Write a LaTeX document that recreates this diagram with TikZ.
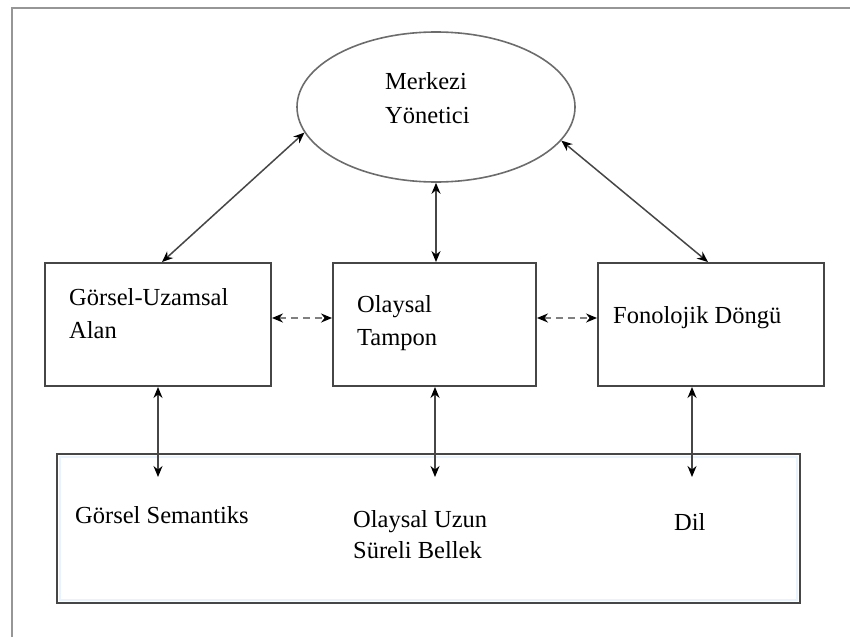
\documentclass[tikz,border=0pt]{standalone}
\usepackage{fontspec}
\setmainfont{Liberation Serif}
\usetikzlibrary{shapes.geometric,arrows.meta,calc}
\definecolor{framegray}{RGB}{150,150,150}
\definecolor{linegray}{RGB}{70,70,70}
\definecolor{tintblue}{RGB}{232,243,253}
\begin{document}
\begin{tikzpicture}[x=1pt,y=-1pt,
  txt/.style={anchor=base west,inner sep=0pt,font=\fontsize{24.5}{30}\selectfont,text=black},
  boxnode/.style={draw=linegray,line width=1.9pt,rectangle,inner sep=0pt},
  biarrow/.style={draw=linegray,line width=1.5pt,{Stealth[length=11pt,width=9pt,black]}-{Stealth[length=11pt,width=9pt,black]}},
  dasharrow/.style={draw=gray,line width=1.6pt,dash pattern=on 7pt off 5pt,{Stealth[length=11pt,width=9pt,black]}-{Stealth[length=11pt,width=9pt,black]}}
]
\useasboundingbox (0,0) rectangle (850,637);
% outer frame (left and top)
\draw[framegray,line width=2.2pt] (12,637) -- (12,8) -- (850,8);

% shapes
\node[ellipse,draw=gray!85!black,line width=1.6pt,minimum width=278pt,minimum height=150pt,inner sep=0pt] (E) at (436,107) {};
\node[boxnode,minimum width=226pt,minimum height=123pt] (L) at (158,324.5) {};
\node[boxnode,minimum width=203pt,minimum height=123pt] (M) at (434.5,324.5) {};
\node[boxnode,minimum width=226pt,minimum height=123pt] (R) at (711,324.5) {};
\node[rectangle,inner sep=0pt,minimum width=743pt,minimum height=149pt] (B) at (428.5,528.5) {};
\draw[tintblue,line width=2pt] ($(B.north west)+(3,3)$) rectangle ($(B.south east)+(-3,-3)$);
\draw[linegray,line width=1.9pt] (B.north west) rectangle (B.south east);

% texts
\node[txt] (t1) at (385,89) {Merkezi};
\node[txt] (t2) at (385,123) {Yönetici};
\node[txt] (t3) at (69,305) {Görsel-Uzamsal};
\node[txt] (t4) at (69,338) {Alan};
\node[txt] (t5) at (357,312) {Olaysal};
\node[txt] (t6) at (357,345) {Tampon};
\node[txt] (t7) at (613,323) {Fonolojik Döngü};
\node[txt] (t8) at (75,523) {Görsel Semantiks};
\node[txt] (t9) at (353,527) {Olaysal Uzun};
\node[txt] (t10) at (353,558) {Süreli Bellek};
\node[txt] (t11) at (674,530) {Dil};

% arrow end points inside the bottom box
\coordinate (gs) at (158,477);
\coordinate (ol) at (435,477);
\coordinate (dl) at (692,477);

% connectors
\draw[biarrow] (E.191) -- ([xshift=4pt]L.north);
\draw[biarrow] (E.-15) -- ([xshift=-3pt]R.north);
\draw[biarrow] (E.south) -- (E.south |- M.north);
\draw[dasharrow] ([yshift=6.5pt]L.east) -- ([yshift=6.5pt]M.west);
\draw[dasharrow] ([yshift=6.5pt]M.east) -- ([yshift=6.5pt]R.west);
\draw[biarrow] (gs |- L.south) -- (gs);
\draw[biarrow] (ol |- M.south) -- (ol);
\draw[biarrow] (dl |- R.south) -- (dl);
\end{tikzpicture}
\end{document}
